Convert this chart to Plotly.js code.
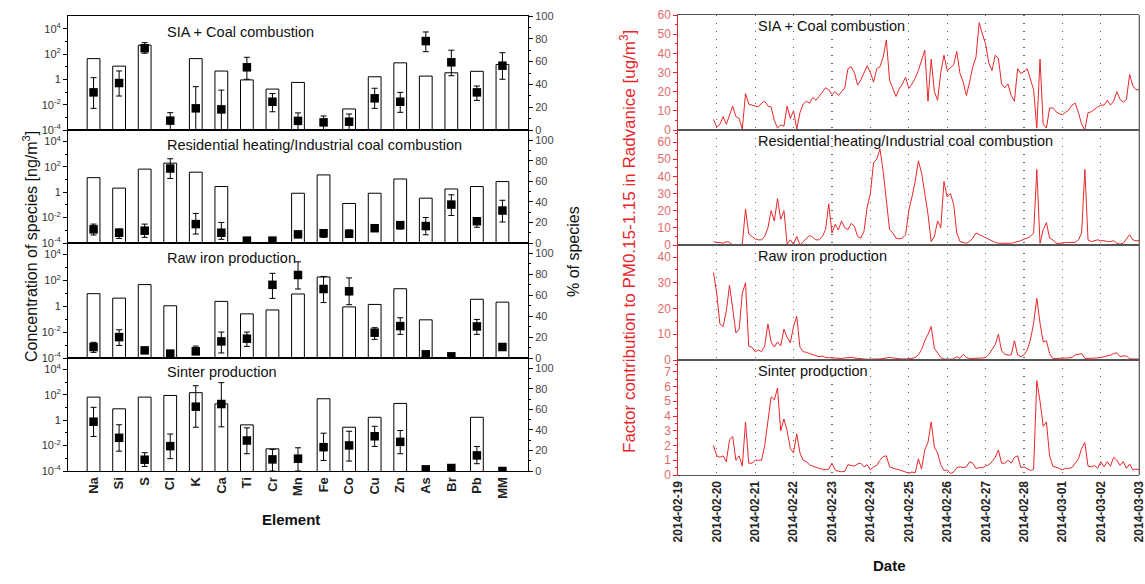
<!DOCTYPE html>
<html><head><meta charset="utf-8">
<script src="https://cdn.plot.ly/plotly-3.0.1.min.js"></script>
<style>html,body{margin:0;padding:0;background:#fff}#chart{width:1145px;height:584px}</style>
</head><body><div id="chart"></div>
<script>
// ---------------- DATA ----------------
const elements = ['Na','Si','S','Cl','K','Ca','Ti','Cr','Mn','Fe','Co','Cu','Zn','As','Br','Pb','MM'];
const factorNames = ['SIA + Coal combustion','Residential heating/Industrial coal combustion','Raw iron production','Sinter production'];

// concentration of species [ng/m3] (bars, log axis)
const concSIA   = [43, 11, 500, null, 43, 4.5, 0.9, 0.17, 0.57, null, 0.0046, 1.6, 20, 1.8, 3.3, 4.3, 15];
const concRes   = [14, 2.1, 66, 195, 38, 2.8, null, null, 0.83, 23, 0.13, 0.83, 11, 0.34, 1.8, 2.8, 6.9];
const concRaw   = [9.5, 4.3, 48, 1.1, null, 2.4, 0.26, 0.52, 9, 186, 0.9, 1.4, 23, 0.09, null, 3.5, 2.1];
const concSint  = [66, 7.9, 66, 89, 148, 19.5, 0.43, 0.0056, null, 49, 0.28, 1.7, 21, null, null, 1.7, null];

// % of species (squares) with upper / lower bounds of the error bars
const pctSIA    = [33, 41.2, 71.7, 8.2, 19, 18.1, 55, 24.8, 8, 6.7, 7.3, 27.8, 24.8, 78, 59.4, 33, 56.4];
const pctSIAHi  = [45.9, 51.8, 76.6, 15.2, 38, 35, 63.8, 32, 15, 12.3, 14, 36.6, 33, 86, 70, 38.6, 67.8];
const pctSIALo  = [19, 29.8, 67.3, 0, 0, 0, 44.5, 16, 0, 0, 0, 19, 15.5, 68.7, 47.6, 26, 44.5];

const pctRes    = [13.3, 10, 12, 72.5, 18.4, 10, 2.3, 2.3, 8.4, 9.5, 9, 14.4, 17.4, 16.5, 37.4, 21.2, 31.6];
const pctResHi  = [18.4, 13.6, 18.4, 82, 28.8, 20, 2.3, 2.3, 8.4, 12, 12.7, 17, 20.6, 24.8, 46.9, 24.8, 41.6];
const pctResLo  = [7.8, 4.5, 5.5, 62.8, 8.7, 3.6, 2.3, 2.3, 8.4, 5.6, 5.3, 12, 13.6, 8, 26.8, 15.3, 20.4];

const pctRaw    = [10.5, 20, 7.3, 4.2, 6.4, 15.9, 18.5, 70, 79.4, 66, 63.8, 24.2, 30.5, 3.5, 1.6, 30.2, 10.5];
const pctRawHi  = [15, 27, 7.3, 4.2, 11.4, 24.8, 24.8, 81, 92, 78, 76.6, 29, 38.5, 3.5, 1.6, 36.9, 10.5];
const pctRawLo  = [5.4, 12, 7.3, 4.2, 3.2, 4.8, 11.1, 57, 66, 53, 51, 17.8, 22.6, 3.5, 1.6, 22.6, 10.5];

const pctSint   = [48, 32.3, 11, 24.2, 62.6, 65.2, 29.7, 11.3, 12, 23.2, 24.9, 33.8, 28.4, 1.6, 2.9, 15.2, 0];
const pctSintHi = [62, 45, 17.8, 36, 83, 86, 42, 21, 22.6, 36.8, 38.7, 43.5, 39.4, 1.6, 2.9, 23.9, 0];
const pctSintLo = [33.6, 19.3, 4.5, 12, 42.6, 43, 16.8, 0, 0, 10.3, 9.7, 23.9, 16.8, 1.6, 2.9, 7.1, 0];

// factor contributions [ug/m3], sampled every 2 h from 2014-02-19 22:00
const seriesStart = Date.UTC(2014, 1, 19, 22, 0, 0);
const stepHours = 2;
const contribSIA = [5.5,1.5,3,7,3,8,12.5,7,6,0.5,19,13.5,13,12.5,12,14,15,12.5,12,5,1,2.6,2,12.5,6,10,0.5,9,13.5,15,
  14,17,15.5,17.5,19.5,22,21,18.5,20,18,20,22,32,33,30,23.5,26,30,33.5,30,25,32,33,38,47,26,22,17.5,21.5,24,
  27.5,21.7,24,27,31,36,41.7,15,37,20,15.5,30,39,31,32.5,34,41,29.5,25,18,25,33,38,56,50,45,35,31,39,37.4,
  24,22,24,18,15,32,29.5,30.5,32,26,21,1,37,3,1,11.5,11.5,9.5,8.5,8,9.5,10.5,13,14,9,3,0,9,9.5,11,
  12,13,13,15.5,13,15,20,16,14.5,16,29,23,21,21];
const contribRes = [2,1.5,1.5,1,2,1.5,0,0,0,0.5,21,6.5,5,3.5,3,3,5,10,20,14,27,15,20,0.5,3,0.5,5,0,2,3.5,
  5.5,4.5,3,3,5,9,24,7,12,8.7,14,10,9,12.6,11,5,4,8,22,30,48,50,56,43,24,9,7,4,3.5,4,
  6,20,28,37,49,42,30,18,2,5,14,10,37,28,30,24,7,2,1.5,1,2,4,7,6,5,4,3,2,1.5,1,
  1,1,1,1,1.5,2,2.5,3.5,4,5,7,44,1,9,13,4,3,1,1,1,1.5,1.5,1.5,1.5,3,7,44,3,2,2.5,
  3,2.5,2.5,2,2,2.5,1,0.5,1,3.5,6,3,2.5,2.5];
const contribRaw = [34,26,14,13,19,29,20,10.5,12,26,30,5.4,5,3.2,3.9,3.2,5.5,14,7,5,7,5.5,12,8.8,6.7,13,17,5,3.2,3,
  2.5,2,1.7,1.3,1.5,1,0.9,0.8,0.8,0.7,0.6,0.8,1,1,0.8,0.6,0.5,0.4,0.3,0.3,0.3,0.3,0.4,0.6,0.8,1,0.8,0.6,0.5,0.4,
  0.4,0.4,0.6,1,2,4,7.5,10,13,4.5,2.8,1,0.4,0.3,0.3,0.4,1.3,0.6,2.2,1,0.6,0.6,0.6,0.6,0.8,1,2.2,4,6,10,
  3.5,2.3,1.9,2,7.5,2,1.3,2,4,7.8,14.3,24,14.3,7,7.5,2.5,0.6,0.6,0.6,0.6,0.7,0.8,1,2,2.2,2.5,0.6,0.6,0.6,0.7,
  0.8,1,1.3,1.6,1.9,2.5,2.8,1.3,1.6,1.5,0.5,0.4,0.4,0.4];
const contribSint = [2.0,1.3,1.2,1.3,0.9,2.4,2.6,1.0,1.3,0.6,3.6,0.8,0.8,1.0,1.0,1.0,2.0,3.5,5.3,5.1,5.9,3.0,3.8,3.0,1.8,1.5,2.8,1.5,1.0,0.9,
  0.7,0.6,0.5,0.45,0.4,0.35,0.4,0.8,0.35,0.25,0.22,0.25,0.7,0.65,0.6,0.75,0.8,0.55,0.7,0.35,0.55,0.65,1.0,1.25,1.3,0.55,0.45,0.4,0.35,0.3,
  0.2,0.12,0.2,0.15,1.1,0.4,1.7,2.2,3.6,1.9,1.5,0.7,0.3,0.35,0.1,0.2,0.5,0.55,0.5,0.55,0.9,0.8,0.45,0.5,0.5,0.6,0.7,0.9,1.2,1.7,
  0.8,0.8,1.0,0.8,1.2,1.3,0.5,0.55,0.45,0.3,0.4,6.4,5.0,3.3,3.6,1.3,0.6,0.55,0.45,0.35,0.45,0.45,0.5,0.8,1.1,1.8,2.2,0.6,0.55,0.65,
  0.45,0.9,0.55,0.9,0.6,1.2,1.0,0.65,0.9,0.45,0.75,0.35,0.4,0.35];

const dateTicks = ['2014-02-19','2014-02-20','2014-02-21','2014-02-22','2014-02-23','2014-02-24','2014-02-25',
  '2014-02-26','2014-02-27','2014-02-28','2014-03-01','2014-03-02','2014-03-03'];
const logTickVals = [1e-4, 1e-2, 1, 1e2, 1e4];
const logTickText = ['10<sup>-4</sup>','10<sup>-2</sup>','1','10<sup>2</sup>','10<sup>4</sup>'];

// ---------------- BUILD ----------------
const W = 1145, H = 584;
const px = x => x / W, py = y => 1 - y / H;
const FONT = 'Liberation Sans, Arial, sans-serif';
const RED = '#e8262a';
const concAll = [concSIA, concRes, concRaw, concSint];
const pctAll = [[pctSIA,pctSIAHi,pctSIALo],[pctRes,pctResHi,pctResLo],[pctRaw,pctRawHi,pctRawLo],[pctSint,pctSintHi,pctSintLo]];
const contribAll = [contribSIA, contribRes, contribRaw, contribSint];

const times = contribSIA.map((_, i) => {
  const d = new Date(seriesStart + i * stepHours * 3600e3);
  return d.toISOString().slice(0, 19).replace('T', ' ');
});

const leftPanels = [[16,130],[130,243],[243,358],[358,471]];
const rightPanels = [[15,130],[130,245],[245,360],[360,475]];
const logRanges = [[-4,5],[-4,4.9],[-4,4.9],[-4,4.9]];
const pctRanges = [[0,100],[0,110],[0,110],[0,110]];
const contribRanges = [[0,60],[0,67],[0,44.7],[0,7.8]];
const contribDtick = [10,10,10,1];
const leftTitleY = [32,145,258,372];
const rightTitleY = [26,141,256,371];

const traces = [];
const layout = {
  width: W, height: H, margin: {l:0, r:0, t:0, b:0},
  paper_bgcolor: '#fff', plot_bgcolor: 'rgba(0,0,0,0)',
  showlegend: false, font: {family: FONT, color: '#222'},
  annotations: [], shapes: []
};
const ax = (n, base) => (n === 1 ? base : base + n);

for (let i = 0; i < 4; i++) {
  const xn = i + 1, yl = i + 1, yr = i + 5;
  const xa = ax(xn,'x'), yla = ax(yl,'y'), yra = ax(yr,'y');
  traces.push({type:'bar', x: elements, y: concAll[i], xaxis: xa, yaxis: yla, width: 0.5,
    marker: {color:'#fff', line:{color:'#000', width:1}}, hoverinfo:'skip'});
  const [v, hi, lo] = pctAll[i];
  traces.push({type:'scatter', mode:'markers', x: elements, y: v, xaxis: xa, yaxis: yra,
    marker: {symbol:'square', size:8.5, color:'#000'},
    error_y: {type:'data', symmetric:false, array: hi.map((h,k)=>h - v[k]), arrayminus: lo.map((l,k)=>v[k] - l),
      color:'#000', thickness:1, width:3}, hoverinfo:'skip'});
  const [t, b] = leftPanels[i];
  layout[ax(xn,'xaxis')] = {domain:[px(68), px(528)], anchor: yla, type:'category', range:[-1,17],
    showline:true, mirror:true, linecolor:'#000', linewidth:1, showgrid:false, zeroline:false,
    ticks:'', showticklabels: i === 3, tickangle:-90,
    tickfont:{size:13, weight:'bold', color:'#222', family: FONT}, fixedrange:true};
  layout[ax(yl,'yaxis')] = {domain:[py(b), py(t)], anchor: xa, type:'log', range: logRanges[i],
    tickvals: logTickVals, ticktext: logTickText, ticks:'outside', ticklen:4, tickcolor:'#000',
    showline:true, linecolor:'#000', showgrid:false, zeroline:false,
    tickfont:{size:11, color:'#333', family: FONT},
    minor:{tickvals:[1e-3,1e-1,10,1e3], ticks:'outside', ticklen:2, tickcolor:'#000'}};
  layout[ax(yr,'yaxis')] = {overlaying: yla, side:'right', anchor: xa, range: pctRanges[i],
    tickvals:[0,20,40,60,80,100], ticks:'outside', ticklen:4, tickcolor:'#000',
    showline:true, linecolor:'#000', showgrid:false, zeroline:false,
    tickfont:{size:11, color:'#444', family: FONT},
    minor:{tickvals:[10,30,50,70,90], ticks:'outside', ticklen:2, tickcolor:'#000'}};
  layout.annotations.push({text: factorNames[i], x: px(165), y: py(leftTitleY[i]), xref:'paper', yref:'paper',
    xanchor:'left', yanchor:'middle', showarrow:false, font:{size:14.5, color:'#111', family: FONT}});
}

for (let i = 0; i < 4; i++) {
  const xn = i + 5, yn = i + 9;
  const xa = ax(xn,'x'), ya = ax(yn,'y');
  traces.push({type:'scatter', mode:'lines', x: times, y: contribAll[i], xaxis: xa, yaxis: ya,
    line:{color: RED, width:1}, hoverinfo:'skip'});
  const [t, b] = rightPanels[i];
  layout[ax(xn,'xaxis')] = {domain:[px(678.3), px(1139.3)], anchor: ya, type:'date',
    range:['2014-02-19 00:00:00','2014-03-03 00:02:00'], tickvals: dateTicks, ticktext: dateTicks,
    showgrid:true, gridcolor:'#666', griddash:'1px,7px', gridwidth:1.2,
    showline:true, mirror:true, linecolor:'#555', linewidth:1.2, zeroline:false, ticks:'',
    showticklabels: i === 3, tickangle:-90, ticklabeloverflow:'allow',
    tickfont:{size:12, weight:'bold', color:'#222', family: FONT}};
  const dt = contribDtick[i];
  layout[ax(yn,'yaxis')] = {domain:[py(b), py(t)], anchor: xa, range: contribRanges[i],
    dtick: dt, tick0:0, ticks:'outside', ticklen:4, tickcolor: RED,
    showline:true, linecolor: RED, linewidth:1, showgrid:false, zeroline:false,
    tickfont:{size:12, color:'#e46a6a', family: FONT},
    minor:{dtick: dt/2, ticks:'outside', ticklen:2, tickcolor: RED}};
  layout.annotations.push({text: factorNames[i], x: px(756), y: py(rightTitleY[i]), xref:'paper', yref:'paper',
    xanchor:'left', yanchor:'middle', showarrow:false, font:{size:14.5, color:'#111', family: FONT}});
}

layout.shapes.push({type:'line', xref:'paper', yref:'paper', x0: px(1139.3), x1: px(1139.3), y0: py(475), y1: py(15),
  line:{color:'#555', width:1.2}});

layout.annotations.push(
  {text:'Concentration of species [ng/m<sup>3</sup>]', x: px(18), y: py(247), xref:'paper', yref:'paper',
    textangle:-90, showarrow:false, font:{size:16, color:'#111', family: FONT}},
  {text:'% of species', x: px(574), y: py(252), xref:'paper', yref:'paper',
    textangle:-90, showarrow:false, font:{size:16, color:'#111', family: FONT}},
  {text:'Element', x: px(260), y: py(530), xref:'paper', yref:'paper',
    showarrow:false, font:{size:15, weight:'bold', color:'#111', family: FONT}},
  {text:'Factor contribution to PM0.15-1.15 in Radvanice [ug/m<sup>3</sup>]', x: px(628), y: py(242), xref:'paper', yref:'paper',
    textangle:-90, showarrow:false, font:{size:17, color: RED, family: FONT}},
  {text:'Date', x: px(908), y: py(576), xref:'paper', yref:'paper',
    showarrow:false, font:{size:15, weight:'bold', color:'#111', family: FONT}}
);

Plotly.newPlot('chart', traces, layout, {staticPlot:true, displayModeBar:false});
</script></body></html>
